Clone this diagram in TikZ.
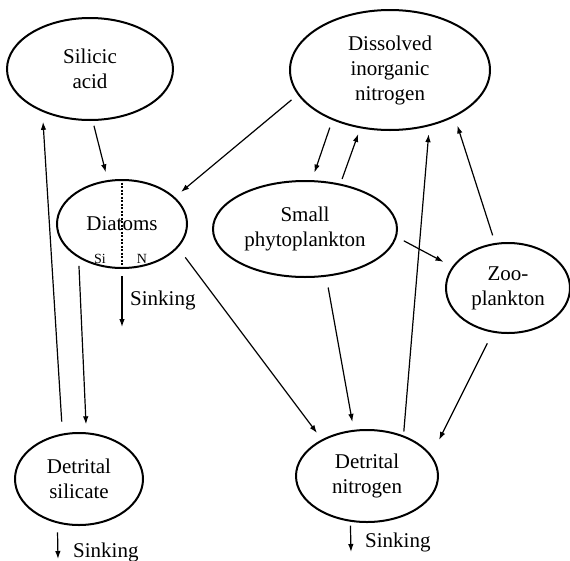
\documentclass[tikz,border=0pt]{standalone}
\usepackage{fontspec}
\setmainfont{Liberation Serif}
\usetikzlibrary{arrows.meta}
\usetikzlibrary{shapes.geometric}
\tikzstyle{pool}=[ellipse,draw,line width=2pt,inner sep=0pt,align=center,font=\fontsize{21}{25}\selectfont]
\tikzstyle{lbl}=[inner sep=0pt,font=\fontsize{21}{25}\selectfont]
\tikzstyle{half}=[inner sep=0pt,font=\fontsize{14}{16}\selectfont]
\tikzstyle{fluxhead}=[>/.tip={Latex[length=8pt,width=5.5pt]}]
\tikzstyle{sink}=[line width=1.2pt,fluxhead,->]
\tikzstyle{flux}=[sink,shorten <=8pt,shorten >=8pt]
\begin{document}
\begin{tikzpicture}[x=1pt,y=-1pt]
	\useasboundingbox (0,0) rectangle (570,560);
	\node[pool,minimum width=166pt,minimum height=102pt] (sil)  at (90,69)   {Silicic\\acid};
	\node[pool,minimum width=200pt,minimum height=120pt] (din)  at (390,70)  {Dissolved\\inorganic\\nitrogen};
	\node[pool,minimum width=130pt,minimum height=88pt]  (diat) at (122,224) {Diatoms};
	\node[pool,minimum width=184pt,minimum height=96pt]  (phy)  at (305,229) {Small\\phytoplankton};
	\node[pool,minimum width=124pt,minimum height=90pt]  (zoo)  at (508,288) {Zoo-\\plankton};
	\node[pool,minimum width=128pt,minimum height=92pt]  (dsil) at (79,479)  {Detrital\\silicate};
	\node[pool,minimum width=142pt,minimum height=92pt]  (dnit) at (367,476) {Detrital\\nitrogen};
	\draw[line width=1.6pt,dash pattern=on 2pt off 1.5pt] (diat.north) -- (diat.south);
	\node[half] (si) at (100,259) {Si};
	\node[half] (n)  at (142,259) {N};
	% fluxes
	\draw[flux,shorten <=5pt] (sil.-87) -- (diat.108);
	\draw[flux,shorten <=12pt,shorten >=10pt] (dsil.110) -- (sil.-138);
	\draw[flux] (diat.-142) -- (dsil.81);
	\draw[flux] (din.-165) -- (diat.27);
	\draw[flux] (din.-139) -- (phy.82);
	\draw[flux,shorten <=5pt,shorten >=6pt] (phy.52) -- (din.-117);
	\draw[flux,shorten >=10pt] (phy.-5) -- (zoo.159);
	\draw[flux,shorten <=4pt] (dnit.48) -- (din.-55);
	\draw[flux,shorten >=9pt] (zoo.106) -- (din.-36);
	\draw[flux,shorten <=11pt] (phy.-66) -- (dnit.106);
	\draw[flux,shorten <=12pt] (diat.-23) -- (dnit.141);
	\draw[flux,shorten <=12pt,shorten >=17pt] (zoo.-109) -- (dnit.18);
	% sinking
	\coordinate (diatsink) at (122,327);
	\coordinate (dsilsink) at (58,559);
	\coordinate (dnitsink) at (351,552);
	\draw[sink,shorten <=7pt] (diat.south) -- (diatsink);
	\draw[sink,shorten <=9pt] (dsil.-116) -- (dsilsink);
	\draw[sink,shorten <=4pt] (dnit.-110) -- (dnitsink);
	\node[lbl,anchor=base west] (diatlbl) at (130,305) {Sinking};
	\node[lbl,anchor=base west] (dsillbl) at (73,557) {Sinking};
	\node[lbl,anchor=base west] (dnitlbl) at (365,547) {Sinking};
\end{tikzpicture}
\end{document}
